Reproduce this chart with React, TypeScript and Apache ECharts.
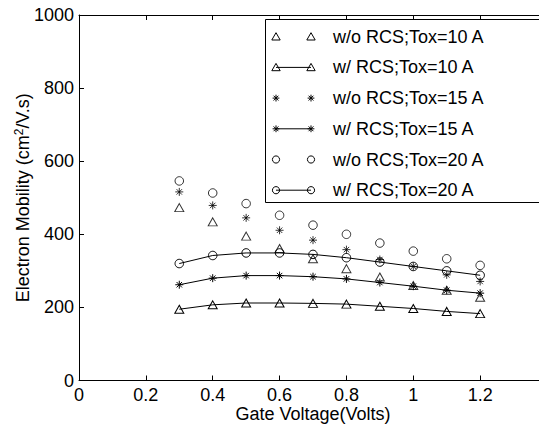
import React, { useEffect, useRef } from "react";
import * as echarts from "echarts";

const gateVoltage = [0.3, 0.4, 0.5, 0.6, 0.7, 0.8, 0.9, 1.0, 1.1, 1.2];
const woRcs10 = [473, 434, 395, 361, 333, 306, 283, 260, 247, 228];
const wRcs10 = [195, 207, 212, 212, 211, 209, 203, 197, 189, 183];
const woRcs15 = [516, 479, 445, 411, 384, 358, 331, 312, 289, 271];
const wRcs15 = [262, 280, 287, 287, 284, 278, 268, 258, 247, 239];
const woRcs20 = [546, 513, 484, 452, 425, 400, 376, 354, 333, 315];
const wRcs20 = [320, 342, 349, 349, 345, 336, 324, 312, 300, 288];

const seriesNames = [
  "w/o RCS;Tox=10 A",
  "w/ RCS;Tox=10 A",
  "w/o RCS;Tox=15 A",
  "w/ RCS;Tox=15 A",
  "w/o RCS;Tox=20 A",
  "w/ RCS;Tox=20 A",
];

const xTicks = { min: 0, max: 1.4, interval: 0.2, lastLabel: 1.2 };
const yTicks = { min: 0, max: 1000, interval: 200 };

const TRI = "path://M5,0 L10,8.7 L0,8.7 Z";
const AST = "path://M5,0 L5,10 M0,5 L10,5 M1.6,1.6 L8.4,8.4 M8.4,1.6 L1.6,8.4";
const FONT = "Liberation Sans, Arial, Helvetica, sans-serif";

function pairs(vals: number[]) {
  return gateVoltage.map((x, i) => [x, vals[i]]);
}

function marker(kind: string, cx: number, cy: number): any {
  const st = { stroke: "#000", fill: "none", lineWidth: 1 };
  if (kind === "tri") {
    return {
      type: "polygon",
      shape: { points: [[cx, cy - 4], [cx + 4.2, cy + 3.3], [cx - 4.2, cy + 3.3]] },
      style: st,
    };
  }
  if (kind === "circ") {
    return { type: "circle", shape: { cx, cy, r: 3.6 }, style: st };
  }
  const r = 3.4;
  const d = 2.4;
  return {
    type: "group",
    children: [
      { type: "line", shape: { x1: cx - r, y1: cy, x2: cx + r, y2: cy }, style: st },
      { type: "line", shape: { x1: cx, y1: cy - r, x2: cx, y2: cy + r }, style: st },
      { type: "line", shape: { x1: cx - d, y1: cy - d, x2: cx + d, y2: cy + d }, style: st },
      { type: "line", shape: { x1: cx + d, y1: cy - d, x2: cx - d, y2: cy + d }, style: st },
    ],
  };
}

export default function App() {
  const ref = useRef<HTMLDivElement>(null);
  useEffect(() => {
    if (!ref.current) return;
    const chart = echarts.init(ref.current, undefined, { renderer: "svg" });

    const symStyle = { color: "transparent", borderColor: "#000", borderWidth: 1 };
    const kinds = ["tri", "tri", "ast", "ast", "circ", "circ"];
    const symbols = [TRI, TRI, AST, AST, "circle", "circle"];
    const sizes: any[] = [[9, 8], [9, 8], 8, 8, 8.5, 8.5];
    const datasets = [woRcs10, wRcs10, woRcs15, wRcs15, woRcs20, wRcs20];

    const series: any[] = datasets.map((vals, i) => {
      const withLine = i % 2 === 1;
      return {
        name: seriesNames[i],
        type: withLine ? "line" : "scatter",
        data: pairs(vals),
        symbol: symbols[i],
        symbolSize: sizes[i],
        symbolKeepAspect: false,
        showSymbol: true,
        itemStyle: symStyle,
        lineStyle: { color: "#000", width: 1 },
        z: 3,
      };
    });

    const legendChildren: any[] = [
      {
        type: "rect",
        shape: { x: 265.5, y: 19.5, width: 320, height: 183 },
        style: { fill: "#fff", stroke: "#000", lineWidth: 1 },
      },
    ];
    const x1 = 276;
    const x2 = 311;
    seriesNames.forEach((name, i) => {
      const cy = 36.7 + i * 30.7;
      if (i % 2 === 1) {
        legendChildren.push({
          type: "line",
          shape: { x1, y1: cy, x2, y2: cy },
          style: { stroke: "#000", lineWidth: 1 },
        });
      }
      legendChildren.push(marker(kinds[i], x1, cy));
      legendChildren.push(marker(kinds[i], x2, cy));
      legendChildren.push({
        type: "text",
        x: 333,
        y: cy,
        style: {
          text: name,
          fill: "#000",
          font: `18px ${FONT}`,
          verticalAlign: "middle",
          align: "left",
        },
      });
    });

    const fmt = (v: number) => String(Math.round(v * 100) / 100);
    const xFmt = (v: number) => (v > xTicks.lastLabel + 1e-6 ? "" : fmt(v));

    chart.setOption({
      animation: false,
      backgroundColor: "#fff",
      textStyle: { fontFamily: FONT },
      grid: { left: 79, top: 15, right: -8, bottom: 46.5, containLabel: false, outerBoundsMode: "none" },
      xAxis: [
        {
          type: "value",
          min: xTicks.min,
          max: xTicks.max,
          interval: xTicks.interval,
          name: "Gate Voltage(Volts)",
          nameLocation: "middle",
          nameGap: 24,
          nameMoveOverlap: false,
          nameTextStyle: { fontSize: 18, color: "#000", fontFamily: FONT },
          axisLine: { show: true, lineStyle: { color: "#000", width: 1 } },
          axisTick: { show: true, inside: true, length: 5, lineStyle: { color: "#000" } },
          axisLabel: { fontSize: 18, color: "#000", margin: 5, fontFamily: FONT, formatter: xFmt },
          splitLine: { show: false },
        },
        {
          type: "value",
          position: "top",
          min: xTicks.min,
          max: xTicks.max,
          interval: xTicks.interval,
          axisLine: { show: true, lineStyle: { color: "#000", width: 1 } },
          axisTick: { show: true, inside: true, length: 5, lineStyle: { color: "#000" } },
          axisLabel: { show: false },
          splitLine: { show: false },
        },
      ],
      yAxis: [
        {
          type: "value",
          min: yTicks.min,
          max: yTicks.max,
          interval: yTicks.interval,
          name: "Electron Mobility (cm{sup|2}/V.s)",
          nameLocation: "middle",
          nameGap: 46,
          nameMoveOverlap: false,
          nameTextStyle: {
            fontSize: 18,
            color: "#000",
            fontFamily: FONT,
            rich: {
              sup: { fontSize: 12, color: "#000", fontFamily: FONT, verticalAlign: "top", padding: [0, 0, 8, 0] },
            },
          },
          axisLine: { show: true, lineStyle: { color: "#000", width: 1 } },
          axisTick: { show: true, inside: true, length: 5, lineStyle: { color: "#000" } },
          axisLabel: { fontSize: 18, color: "#000", margin: 5, fontFamily: FONT, formatter: fmt },
          splitLine: { show: false },
        },
      ],
      series,
      graphic: [{ type: "group", z: 100, children: legendChildren }],
    });

    return () => chart.dispose();
  }, []);

  return (
    <div
      ref={ref}
      style={{ position: "fixed", left: 0, top: 0, width: 539, height: 427, background: "#fff" }}
    />
  );
}
